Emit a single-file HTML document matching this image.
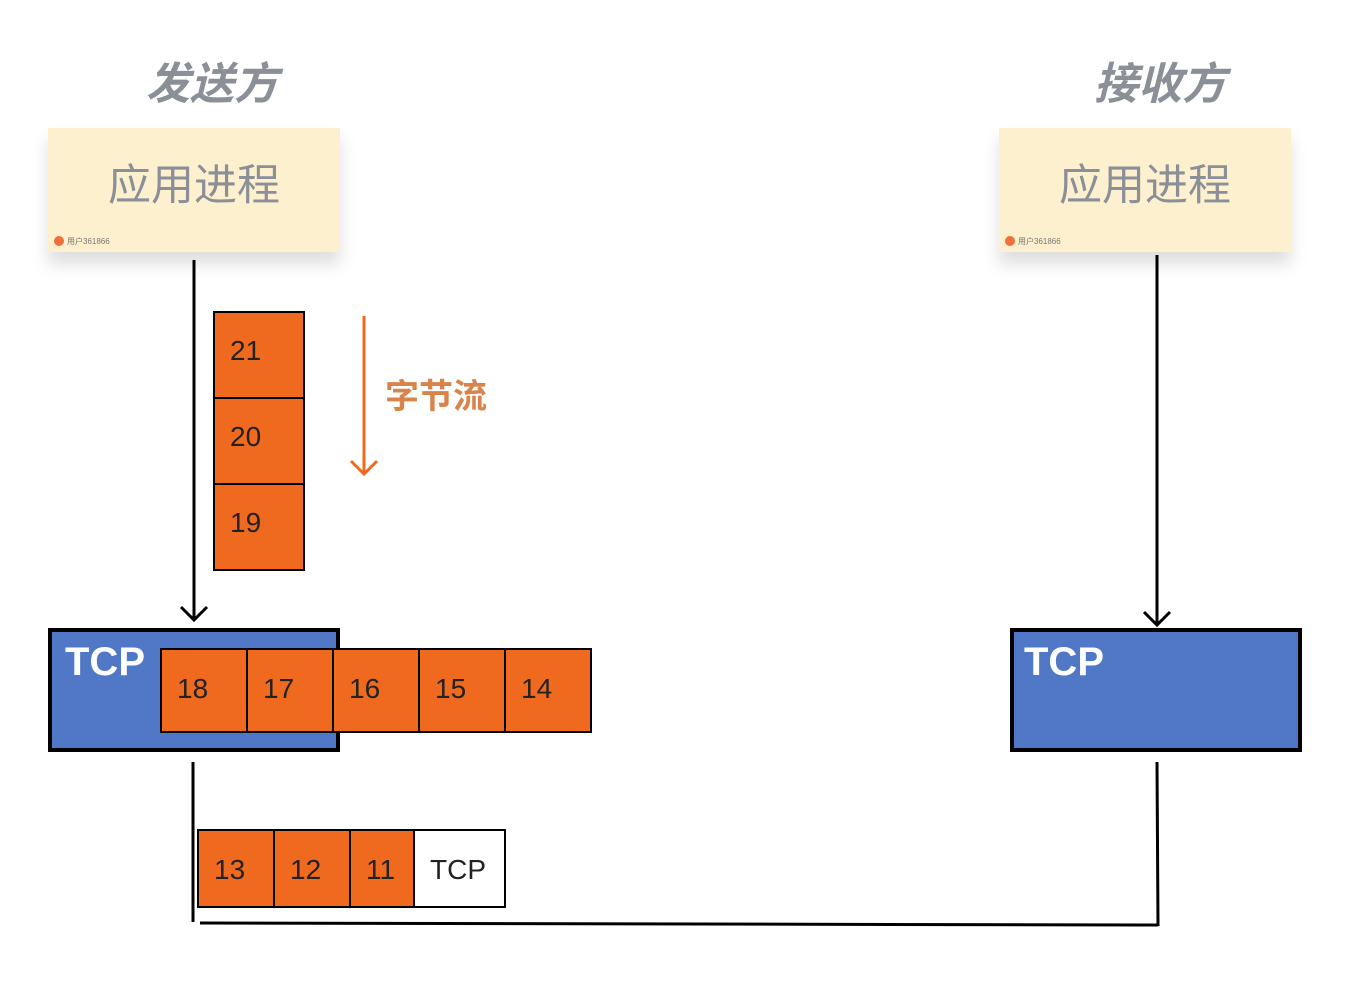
<!DOCTYPE html>
<html><head><meta charset="utf-8"><style>
html,body{margin:0;padding:0;background:#fff;}
svg text{font-family:"Liberation Sans","Noto Sans CJK SC",sans-serif;}
</style></head><body>
<svg width="1352" height="980" viewBox="0 0 1352 980" xmlns="http://www.w3.org/2000/svg">
<defs>
<filter id="sh" x="-20%" y="-20%" width="140%" height="160%"><feDropShadow dx="0" dy="12" stdDeviation="8" flood-color="#000" flood-opacity="0.13"/></filter>
</defs>
<text x="212" y="99" font-size="44" font-weight="bold" font-style="italic" fill="#8A8F98" text-anchor="middle">发送方</text>
<text x="1160" y="99" font-size="44" font-weight="bold" font-style="italic" fill="#8A8F98" text-anchor="middle">接收方</text>
<rect x="48" y="128" width="292" height="124" fill="#FDF0CE" filter="url(#sh)"/>
<text x="194" y="200" font-size="43" fill="#8A8F98" text-anchor="middle">应用进程</text>
<circle cx="59" cy="241" r="5" fill="#F0703A"/>
<text x="67" y="244" font-size="8" fill="#777">用户361866</text>
<rect x="999" y="128" width="292" height="124" fill="#FDF0CE" filter="url(#sh)"/>
<text x="1145" y="200" font-size="43" fill="#8A8F98" text-anchor="middle">应用进程</text>
<circle cx="1010" cy="241" r="5" fill="#F0703A"/>
<text x="1018" y="244" font-size="8" fill="#777">用户361866</text>
<line x1="194" y1="260" x2="194" y2="620" stroke="#000" stroke-width="3"/>
<polyline points="181,607 194,620 207,607" fill="none" stroke="#000" stroke-width="3"/>
<line x1="1157" y1="255" x2="1157" y2="625" stroke="#000" stroke-width="3"/>
<polyline points="1144,612 1157,625 1170,612" fill="none" stroke="#000" stroke-width="3"/>
<g stroke="#000" stroke-width="2" fill="#EF6A1E">
<rect x="214" y="312" width="90" height="86"/>
<rect x="214" y="398" width="90" height="86"/>
<rect x="214" y="484" width="90" height="86"/>
</g>
<g font-size="28" fill="#222">
<text x="230" y="360">21</text><text x="230" y="446">20</text><text x="230" y="532">19</text>
</g>
<line x1="364" y1="316" x2="364" y2="474" stroke="#EF6A1E" stroke-width="3"/>
<polyline points="351,461 364,474 377,461" fill="none" stroke="#EF6A1E" stroke-width="3"/>
<text x="385" y="408" font-size="34" font-weight="bold" fill="#D9834A">字节流</text>
<rect x="50" y="630" width="288" height="120" fill="#5078C6" stroke="#000" stroke-width="4"/>
<text x="65" y="675" font-size="40" font-weight="bold" fill="#fff">TCP</text>
<g stroke="#000" stroke-width="2" fill="#EF6A1E">
<rect x="161" y="649" width="86" height="83"/>
<rect x="247" y="649" width="86" height="83"/>
<rect x="333" y="649" width="86" height="83"/>
<rect x="419" y="649" width="86" height="83"/>
<rect x="505" y="649" width="86" height="83"/>
</g>
<g font-size="28" fill="#222">
<text x="177" y="698">18</text><text x="263" y="698">17</text><text x="349" y="698">16</text><text x="435" y="698">15</text><text x="521" y="698">14</text>
</g>
<rect x="1012" y="630" width="288" height="120" fill="#5078C6" stroke="#000" stroke-width="4"/>
<text x="1024" y="675" font-size="40" font-weight="bold" fill="#fff">TCP</text>
<line x1="193" y1="762" x2="193" y2="922" stroke="#000" stroke-width="3"/>
<line x1="200" y1="923" x2="1158" y2="925" stroke="#000" stroke-width="3"/>
<line x1="1157" y1="762" x2="1158" y2="926" stroke="#000" stroke-width="3"/>
<g stroke="#000" stroke-width="2">
<rect x="198" y="830" width="76" height="77" fill="#EF6A1E"/>
<rect x="274" y="830" width="76" height="77" fill="#EF6A1E"/>
<rect x="350" y="830" width="64" height="77" fill="#EF6A1E"/>
<rect x="414" y="830" width="91" height="77" fill="#fff"/>
</g>
<g font-size="28" fill="#222">
<text x="214" y="879">13</text><text x="290" y="879">12</text><text x="366" y="879">11</text><text x="430" y="879">TCP</text>
</g>
</svg>
</body></html>
